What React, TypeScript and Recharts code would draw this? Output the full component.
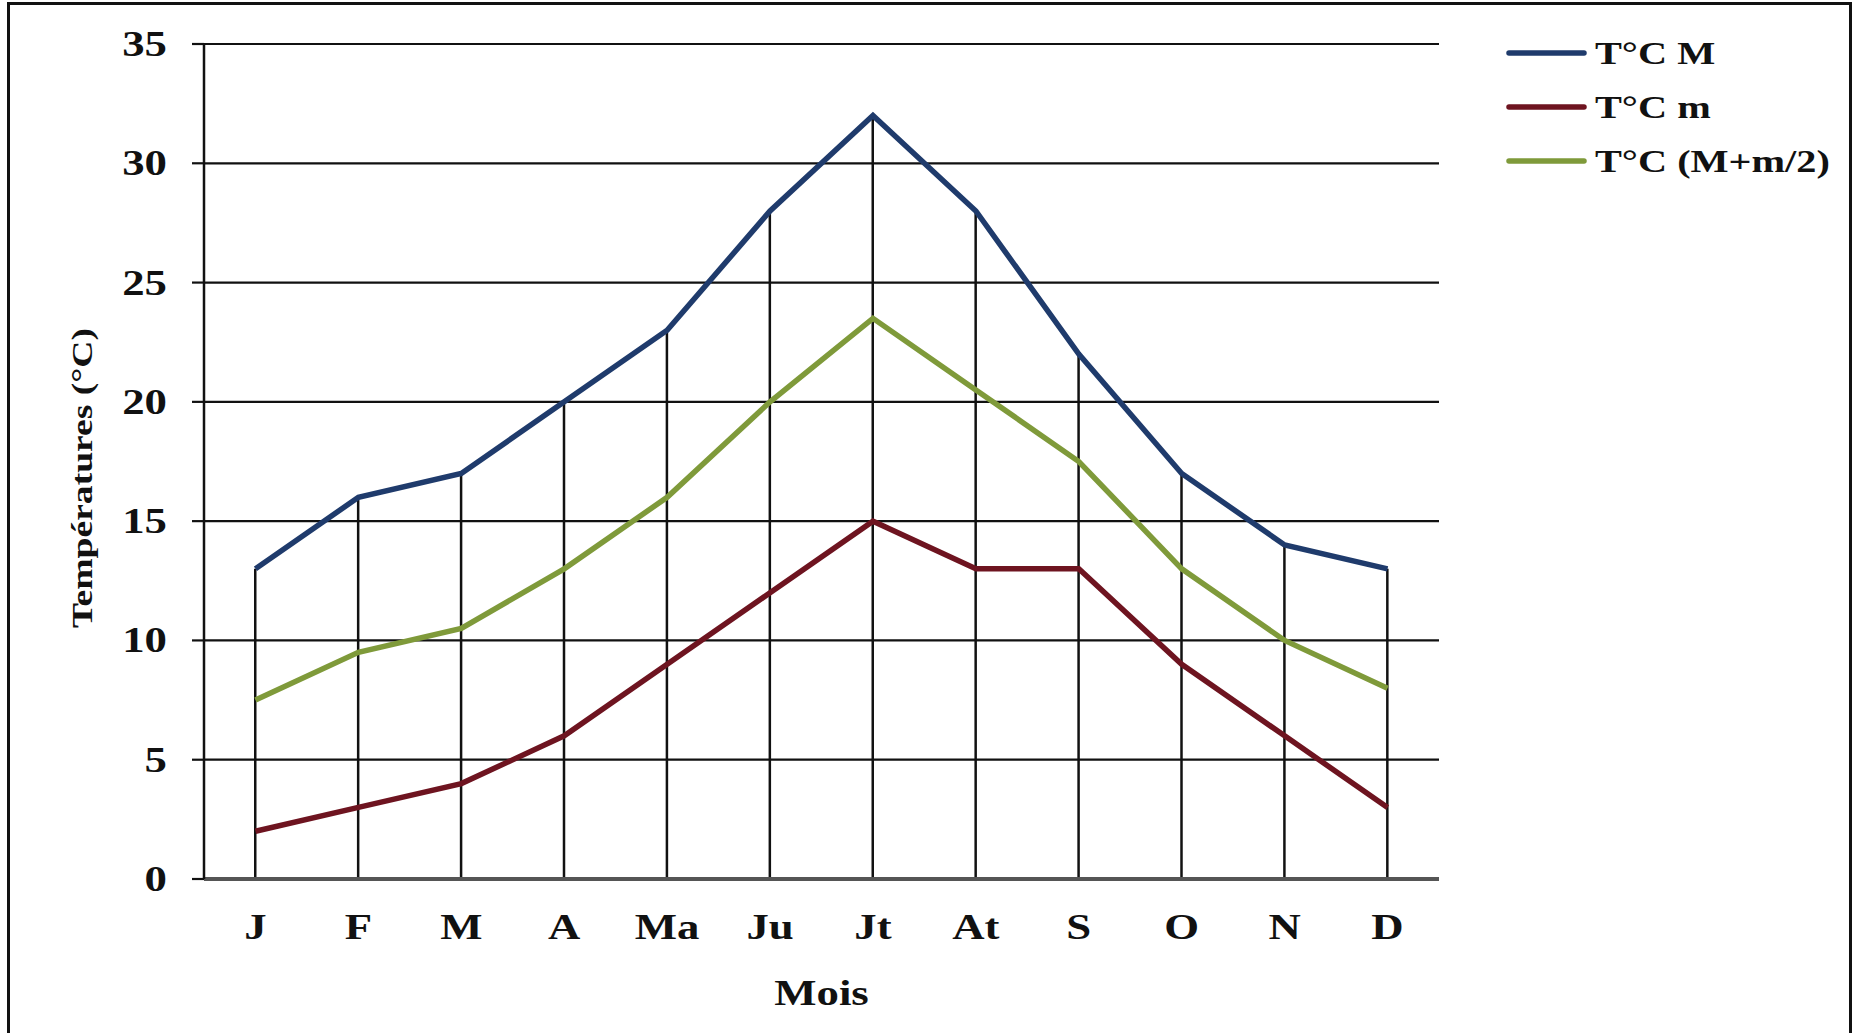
import React from "react"
import { Bar, CartesianGrid, ComposedChart, Label, Legend, Line, XAxis, YAxis } from "recharts"

const MONTHS = ["J", "F", "M", "A", "Ma", "Ju", "Jt", "At", "S", "O", "N", "D"]
const T_MAX = [13, 16, 17, 20, 23, 28, 32, 28, 22, 17, 14, 13]
const T_MIN = [2, 3, 4, 6, 9, 12, 15, 13, 13, 9, 6, 3]
const T_MOY = [7.5, 9.5, 10.5, 13, 16, 20, 23.5, 20.5, 17.5, 13, 10, 8]
const Y_TICKS = [0, 5, 10, 15, 20, 25, 30, 35]

const SERIES_NAMES = ["T°C M", "T°C m", "T°C (M+m/2)"]
const SERIES_KEYS = ["max", "min", "moy"]

const FONT = "'Liberation Serif', 'Times New Roman', serif"
const COLORS = ["#1f3b6c", "#6e1420", "#7f9a3a"]
const STRETCH = "scale(1.28,1)"

const data = MONTHS.map((mois, i) => ({ mois, max: T_MAX[i], min: T_MIN[i], moy: T_MOY[i] }))

function YTick({ x, y, payload }: any) {
  return (
    <g transform={`translate(${x},${y})`}>
      <text transform={STRETCH} textAnchor="end" dy={12} fontFamily={FONT} fontWeight="bold" fontSize={35} fill="#111">
        {payload.value}
      </text>
    </g>
  )
}

function XTick({ x, y, payload }: any) {
  return (
    <g transform={`translate(${x},${y})`}>
      <text transform={STRETCH} textAnchor="middle" dy={60} fontFamily={FONT} fontWeight="bold" fontSize={35} fill="#111">
        {payload.value}
      </text>
    </g>
  )
}

function LegendBox() {
  return (
    <svg width={350} height={160}>
      {SERIES_NAMES.map((name, i) => {
        const cy = 23 + i * 54
        return (
          <g key={name}>
            <line x1={3} x2={78} y1={cy} y2={cy} stroke={COLORS[i]} strokeWidth={5.5} strokeLinecap="round" />
            <g transform={`translate(89,${cy + 11})`}>
              <text transform="scale(1.3,1)" fontFamily={FONT} fontWeight="bold" fontSize={31} fill="#111">
                {name}
              </text>
            </g>
          </g>
        )
      })}
    </svg>
  )
}

export default function App() {
  return (
    <div style={{ position: "relative", width: 1857, height: 1033, background: "#fff", overflow: "hidden" }}>
      <style>{`body{margin:0}`}</style>
      <div
        style={{
          position: "absolute",
          left: 7,
          top: 2,
          width: 1845,
          height: 1050,
          border: "3px solid #111",
          boxSizing: "border-box",
        }}
      />
      <ComposedChart
        width={1857}
        height={1033}
        data={data}
        margin={{ top: 44, right: 418, bottom: 0, left: 104 }}
        style={{ position: "absolute", left: 0, top: 0 }}
      >
        <CartesianGrid vertical={false} stroke="#111" strokeWidth={2.2} />
        <XAxis
          dataKey="mois"
          height={154}
          tickLine={false}
          tickSize={0}
          tickMargin={0}
          axisLine={{ stroke: "#555", strokeWidth: 4 }}
          tick={<XTick />}
          interval={0}
        >
          <Label
            content={({ viewBox }: any) => (
              <g transform={`translate(${viewBox.x + viewBox.width / 2},1005)`}>
                <text transform={STRETCH} textAnchor="middle" fontFamily={FONT} fontWeight="bold" fontSize={35} fill="#111">
                  Mois
                </text>
              </g>
            )}
          />
        </XAxis>
        <YAxis
          width={100}
          domain={[0, 35]}
          ticks={Y_TICKS}
          interval={0}
          axisLine={{ stroke: "#111", strokeWidth: 2.5 }}
          tickLine={{ stroke: "#111", strokeWidth: 2.2 }}
          tickSize={12}
          tickMargin={25}
          tick={<YTick />}
        >
          <Label
            content={() => (
              <text
                transform="translate(92,478) rotate(-90)"
                textAnchor="middle"
                textLength={300}
                lengthAdjust="spacingAndGlyphs"
                fontFamily={FONT}
                fontWeight="bold"
                fontSize={29}
                fill="#111"
              >
                Températures (°C)
              </text>
            )}
          />
        </YAxis>
        <Legend
          layout="horizontal"
          verticalAlign="middle"
          align="center"
          wrapperStyle={{ left: 1506, top: 30, width: 350 }}
          content={() => <LegendBox />}
        />
        <Bar dataKey="max" barSize={2.5} fill="#111" legendType="none" isAnimationActive={false} />
        {SERIES_KEYS.map((k, i) => (
          <Line
            key={k}
            type="linear"
            dataKey={k}
            name={SERIES_NAMES[i]}
            stroke={COLORS[i]}
            strokeWidth={5.5}
            dot={false}
            activeDot={false}
            isAnimationActive={false}
          />
        ))}
      </ComposedChart>
    </div>
  )
}
